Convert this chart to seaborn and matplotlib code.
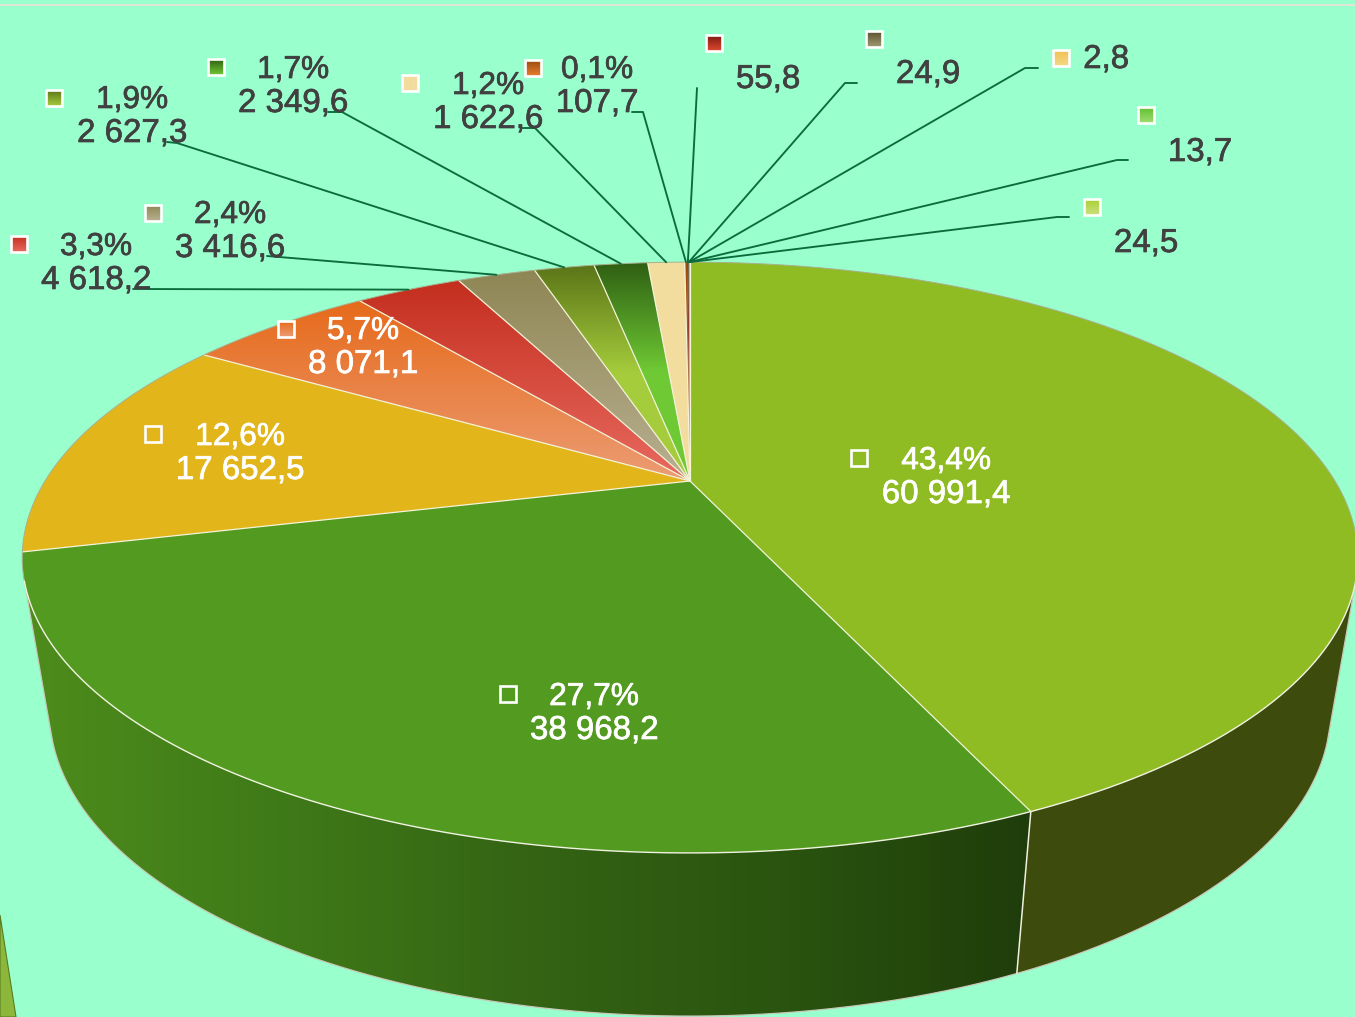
import numpy as np
import matplotlib
matplotlib.use("Agg")
import matplotlib.pyplot as plt
from matplotlib.patches import Polygon, Rectangle
import matplotlib.patheffects as pe
import seaborn as sns

values = [60991.4, 38968.2, 17652.5, 8071.1, 4618.2, 3416.6, 2627.3, 2349.6,
          1622.6, 107.7, 55.8, 24.9, 2.8, 13.7, 24.5]
top_colors = ["#8FBC22", "#539B20", "#E2B61B", "#E66A1A", "#C42E1E", "#8F8655", "#5B7518", "#2F5F13",
              "#F2DC9E", "#9A4A10", "#7A1A10", "#5A5030", "#F0C050", "#5FC030", "#A8D030"]
low_colors = ["#8FBC22", "#539B20", "#E2B61B", "#EC9C74", "#E86A60", "#B8B090", "#A5CC3C", "#6FC934",
              "#F2DC9E", "#E68030", "#E04A30", "#A09A70", "#F5D888", "#A0DC70", "#CCE080"]
wall_left = ["#4E8C1C", "#3F7A18", "#346414", "#2A540F", "#1F3D0B"]
wall_right = "#3D4C0C"

BG = "#99FFCC"
DARK = "#404040"
LEADER = "#0B6B3A"

# layout, in pixels of the 1355x1017 picture
text_x = [946, 594, 240, 363, 96, 230, 132, 293, 488, 597, 768, 928, 1106, 1200, 1146]
text_y = [469, 705, 445, 339, 255, 223, 108, 78, 94, 78, 88, 83, 68, 161, 252]
key_x = [859, 508, 153, 286, 19, 153, 54, 216, 410, 533, 714, 874, 1061, 1146, 1092]
key_y = [458, 694, 434, 329, 244, 213, 98, 67, 83, 68, 43, 39, 58, 115, 207]
leader_from = [None, None, None, None,
               [(133, 289)], [(267, 256)], [(167, 142), (177, 143)], [(328, 112), (342, 112)],
               [(522, 128), (535, 128)], [(632, 112), (643, 112)], [(697, 88)], [(857, 83), (845, 83)],
               [(1038, 68), (1025, 68)], [(1128, 160), (1117, 160)], [(1069, 217), (1057, 217)]]

CX, CY = 690, 481
A, B, K = 645, 275.6, 0.259
S, SY, Y0 = 0.959, 1.03, 633


def top_xy(deg):
    t = np.radians(deg)
    u, v = np.sin(t), -np.cos(t)
    d = 1 - K * v
    return CX + A * u / d, CY + B * v / d


def low_xy(deg):
    x, y = top_xy(deg)
    return CX + S * (x - CX), Y0 + SY * (y - CY)


def tangent_angle(lo, hi):
    # where the wall's edge runs along the rim of the top face
    ang = np.linspace(lo, hi, 2000)
    tx, ty = top_xy(ang)
    bx, by = low_xy(ang)
    cross = np.gradient(tx) * (by - ty) - np.gradient(ty) * (bx - tx)
    return ang[np.argmin(np.abs(cross[5:-5])) + 5]


def fill_gradient(ax, pts, colors, z, horizontal=False):
    pts = np.array(pts)
    pal = np.array(sns.blend_palette(colors, n_colors=256))
    img = pal[:, None, :] if not horizontal else pal[None, :, :]
    x0, y0 = pts.min(axis=0)
    x1, y1 = pts.max(axis=0)
    im = ax.imshow(img, extent=[x0, x1, y1, y0], aspect="auto", zorder=z, interpolation="bilinear")
    clip = Polygon(pts, closed=True, transform=ax.transData, facecolor="none", edgecolor="none")
    ax.add_patch(clip)
    im.set_clip_path(clip)


def fmt(v):
    return f"{v:,.1f}".replace(",", " ").replace(".", ",")


sns.set_theme(style="white")
plt.rcParams["font.family"] = ["Liberation Sans", "DejaVu Sans"]

fig = plt.figure(figsize=(13.55, 10.17), dpi=100, facecolor=BG)
ax = fig.add_axes([0, 0, 1, 1])
ax.set_facecolor(BG)

# top strip and the sliver in the corner
ax.plot([0, 1355], [5, 5], color="#E8E4D8", lw=1.3, zorder=1)
ax.add_patch(Polygon([(0, 915), (16, 1017), (0, 1017)], closed=True, facecolor="#8BB83A",
                     edgecolor="#5A7A20", lw=0.8, zorder=1))

total = sum(values)
edges = np.concatenate([[0], np.cumsum(values)]) / total * 360
split = edges[1]
right_t = tangent_angle(60, 150)
left_t = tangent_angle(200, 300)

# side walls
ang = np.linspace(split, left_t, 300)
pts = [top_xy(a) for a in ang] + [low_xy(a) for a in ang[::-1]]
fill_gradient(ax, pts, wall_left, 2, horizontal=True)
ang = np.linspace(right_t, split, 200)
pts2 = [top_xy(a) for a in ang] + [low_xy(a) for a in ang[::-1]]
ax.add_patch(Polygon(pts2, closed=True, facecolor=wall_right, edgecolor="none", zorder=2))
ang = np.linspace(right_t, left_t, 600)
lx, ly = zip(*[low_xy(a) for a in ang])
lx = [top_xy(right_t)[0]] + list(lx) + [top_xy(left_t)[0]]
ly = [top_xy(right_t)[1]] + list(ly) + [top_xy(left_t)[1]]
ax.plot(lx, ly, color="#C8C8B8", lw=0.9, zorder=3)
ax.plot([top_xy(split)[0], low_xy(split)[0]], [top_xy(split)[1], low_xy(split)[1]],
        color="#F0F0E0", lw=1.1, zorder=3)

# top face
z = 4
for i in range(len(values)):
    ang = np.linspace(edges[i], edges[i + 1], max(3, int(edges[i + 1] - edges[i]) * 3))
    pts = [(CX, CY)] + [top_xy(a) for a in ang]
    if top_colors[i] == low_colors[i]:
        ax.add_patch(Polygon(pts, closed=True, facecolor=top_colors[i], edgecolor="none", zorder=z))
    else:
        stops = [top_colors[i], low_colors[i]]
        if i in (6, 7):
            # these two reach their light colour well before the apex
            stops = stops + [low_colors[i]]
        fill_gradient(ax, pts, stops, z)
    z += 1

# slice borders and rim
for e in edges[:10]:
    x, y = top_xy(e)
    ax.plot([CX, x], [CY, y], color="#F4F2D8", lw=0.9, zorder=z)
ang = np.linspace(right_t, left_t, 400)
rx, ry = zip(*[top_xy(a) for a in ang])
ax.plot(rx, ry, color="#F0F2E0", lw=1.0, zorder=z)
ang = np.linspace(left_t - 360, right_t, 400)
rx, ry = zip(*[top_xy(a) for a in ang])
ax.plot(rx, ry, color="#A8B090", lw=0.7, zorder=z)
z += 1

# leaders, labels, keys
for i, v in enumerate(values):
    if leader_from[i] is not None:
        end = top_xy((edges[i] + edges[i + 1]) / 2)
        line = leader_from[i] + [end]
        ax.plot([p[0] for p in line], [p[1] for p in line], color=LEADER, lw=1.35, zorder=z,
                solid_joinstyle="round")
    inside = i < 4
    col = "white" if inside else DARK
    effects = [pe.withStroke(linewidth=0.5, foreground=col)]
    pct = v / total * 100
    if v > 100:
        ax.text(text_x[i], text_y[i], f"{pct:.1f}%".replace(".", ","), color=col, fontsize=22.8,
                ha="center", va="baseline", zorder=z + 1, path_effects=effects)
        ax.text(text_x[i], text_y[i] + 34, fmt(v), color=col, fontsize=23.8,
                ha="center", va="baseline", zorder=z + 1, path_effects=effects)
    else:
        ax.text(text_x[i], text_y[i], fmt(v), color=col, fontsize=23.8,
                ha="center", va="baseline", zorder=z + 1, path_effects=effects)
    h = 8
    sq = [(key_x[i] - h, key_y[i] - h), (key_x[i] + h, key_y[i] - h),
          (key_x[i] + h, key_y[i] + h), (key_x[i] - h, key_y[i] + h)]
    fill_gradient(ax, sq, [top_colors[i], low_colors[i]], z + 1)
    ax.add_patch(Rectangle((key_x[i] - h, key_y[i] - h), 2 * h, 2 * h, facecolor="none",
                           edgecolor="white", lw=1.9, zorder=z + 2))

ax.set_xlim(0, 1355)
ax.set_ylim(1017, 0)
ax.axis("off")
fig.savefig("out.png", dpi=100, facecolor=BG)
